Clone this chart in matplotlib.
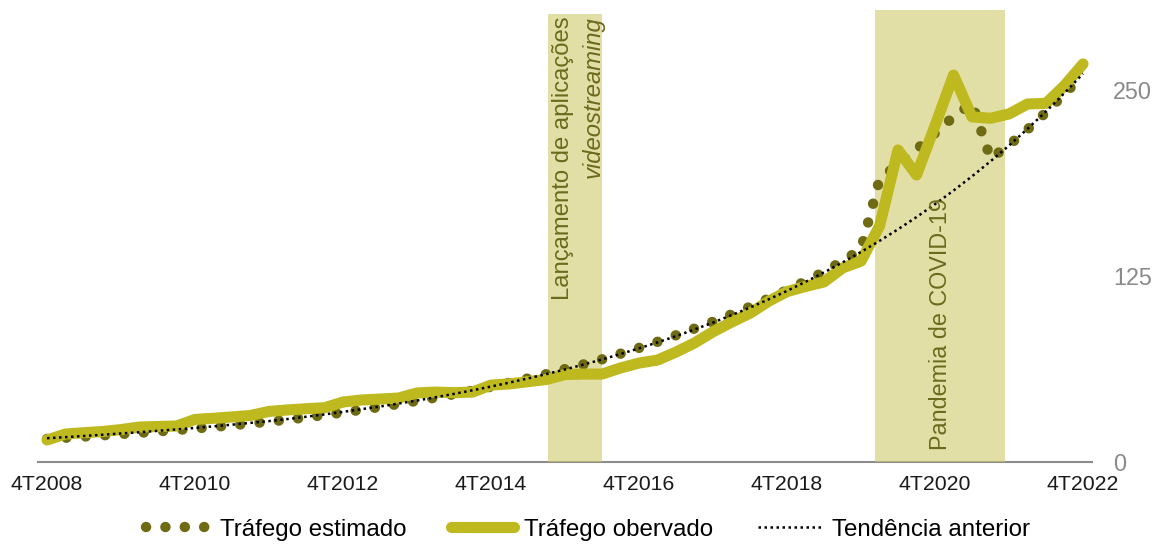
import numpy as np
import matplotlib
matplotlib.use("Agg")
import matplotlib.pyplot as plt
from matplotlib.lines import Line2D

plt.rcParams['font.family'] = ['Liberation Sans', 'DejaVu Sans']

# quarters 4T2008 .. 4T2022
quarters = [f"{q}T{y}" for y in range(2008, 2023) for q in (1, 2, 3, 4)][3:]
tick_labels = ["4T2008", "4T2010", "4T2012", "4T2014", "4T2016", "4T2018", "4T2020", "4T2022"]

observado = [14.8, 18.8, 19.7, 20.5, 21.8, 23.5, 23.9, 24.2, 28.6, 29.4,
             30.3, 31.3, 34.0, 35.0, 35.8, 36.5, 40.3, 41.7, 42.3, 43.0,
             46.4, 47.0, 46.6, 47.0, 51.7, 52.5, 54.0, 55.5, 58.8, 59.1,
             59.1, 63.2, 66.5, 68.5, 73.9, 80.0, 87.5, 94.0, 100.0, 108.0,
             114.5, 118.0, 121.0, 130.4, 135.0, 158.6, 209.7, 192.9, 226.0, 260.0,
             231.9, 231.0, 233.9, 240.6, 241.0, 253.0, 267.5]

estimado = [15.5, 16.3, 17.1, 17.9, 18.8, 19.6, 20.6, 21.5, 22.5, 23.6,
            24.7, 25.9, 27.1, 28.5, 30.0, 31.6, 33.3, 35.1, 37.0, 39.0,
            41.1, 43.3, 45.6, 48.0, 50.6, 53.3, 56.2, 59.1, 62.5, 65.6,
            69.0, 72.8, 76.7, 80.8, 85.2, 89.7, 94.3, 99.2, 104.3, 109.8,
            115.5, 121.5, 127.8, 135.0, 143.0, 190.0, 200.0, 210.0, 221.0, 232.0,
            241.0, 204.0, 213.0, 223.5, 235.0, 247.5, 260.0]

tendencia = [16.0, 16.7, 17.5, 18.3, 19.2, 20.0, 21.0, 21.9, 22.9, 24.0,
             25.1, 26.3, 27.5, 28.9, 30.4, 32.0, 33.7, 35.5, 37.3, 39.3,
             41.3, 43.5, 45.8, 48.2, 50.7, 53.4, 56.2, 59.1, 62.2, 65.5,
             68.9, 72.6, 76.4, 80.4, 84.6, 89.1, 93.7, 98.7, 103.8, 109.3,
             115.0, 121.1, 127.4, 134.1, 141.2, 148.6, 156.4, 164.6, 173.3, 182.4,
             192.0, 202.1, 212.7, 223.9, 235.6, 248.0, 261.0]

# shaded periods (quarter index positions)
streaming_span = (27.1, 30.0)
covid_span = (44.75, 51.8)

c_obs = '#BEB91E'
c_est = '#6E6B14'
c_span = '#CFCB6B'
c_txt = '#6B6A1C'

x = np.arange(len(quarters))

fig = plt.figure(figsize=(11.55, 5.44), dpi=100)
ax = fig.add_axes([0.0327, 0.1507, 0.913, 0.8316])

ax.axvspan(*streaming_span, ymin=0, ymax=301 / 304, color=c_span, alpha=0.6, lw=0, zorder=2.6)
ax.axvspan(*covid_span, ymin=0, ymax=1, color=c_span, alpha=0.6, lw=0, zorder=2.6)

ax.plot(x, estimado, color=c_est, lw=7.5, linestyle=(0, (0.01, 1.85)),
        dash_capstyle='round', zorder=4)
ax.plot(x, observado, color=c_obs, lw=8, solid_capstyle='round',
        solid_joinstyle='round', zorder=5)
ax.plot(x, tendencia, color='black', lw=1.8, linestyle=(0, (1, 1.4)), zorder=6)

ax.set_xlim(-0.5, len(quarters) - 0.5)
ax.set_ylim(0, 304)

ax.set_xticks([quarters.index(t) for t in tick_labels])
ax.set_xticklabels(tick_labels, fontsize=15.3, color='#1a1a1a')
ax.set_yticks([0, 125, 250])
ax.yaxis.tick_right()
ax.tick_params(axis='y', length=0, pad=15, labelsize=16.8, labelcolor='#8a8a8a')
ax.tick_params(axis='x', length=0, pad=9)
for lab in ax.get_yticklabels():
    lab.set_horizontalalignment('left')

for s in ['top', 'left', 'right']:
    ax.spines[s].set_visible(False)
ax.spines['bottom'].set_color('#8c8c8c')
ax.spines['bottom'].set_linewidth(1.5)

ax.text(27.9, 299.5, 'Lançamento de aplicações', rotation=90, ha='center', va='top',
        fontsize=17.2, color=c_txt, zorder=7)
ax.text(29.5, 299.5, 'videostreaming', rotation=90, ha='center', va='top',
        fontsize=17.2, color=c_txt, style='italic', zorder=7)
ax.text(48.3, 8, 'Pandemia de COVID-19', rotation=90, ha='center', va='bottom',
        fontsize=16.8, color=c_txt, zorder=7)

handles = [
    Line2D([], [], color=c_est, lw=7.5, linestyle=(0, (0.01, 1.85)), dash_capstyle='round'),
    Line2D([], [], color=c_obs, lw=8, solid_capstyle='round'),
    Line2D([], [], color='black', lw=1.8, linestyle=(0, (1, 1.4))),
]
fig.legend(handles, ['Tráfego estimado', 'Tráfego obervado', 'Tendência anterior'],
           loc='center', bbox_to_anchor=(0.509, 0.026), ncol=3, frameon=False,
           fontsize=17.4, handlelength=2.6, handletextpad=0.45, columnspacing=1.85,
           borderaxespad=0, borderpad=0)

fig.savefig('out.png', dpi=100)
